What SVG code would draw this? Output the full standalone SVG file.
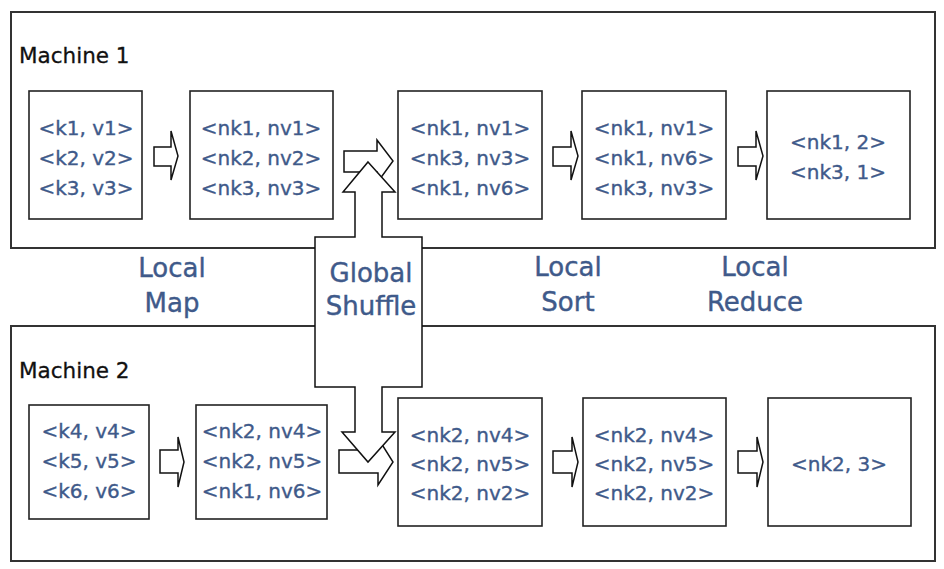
<svg xmlns="http://www.w3.org/2000/svg" width="944" height="569" viewBox="0 0 944 569">
<style>
.machine{fill:#fff;stroke:#333;stroke-width:2}
.box{fill:#fff;stroke:#222;stroke-width:1.6}
.arrow{fill:#fff;stroke:#111;stroke-width:1.5;stroke-linejoin:miter}
.kv{font-family:"DejaVu Sans",Verdana,sans-serif;font-size:20px;fill:#3f5a8a;stroke:#3f5a8a;stroke-width:0.35;text-anchor:middle}
.mlabel{font-family:"DejaVu Sans",Verdana,sans-serif;font-size:21.5px;fill:#111;stroke:#111;stroke-width:0.3}
.stage{font-family:"DejaVu Sans",Verdana,sans-serif;font-size:26px;fill:#3f5a8a;stroke:#3f5a8a;stroke-width:0.4;text-anchor:middle}
</style>
<rect width="944" height="569" fill="#fff"/>
<g id="machine1">
<rect class="machine" x="11" y="12" width="924" height="236"/>
<text class="mlabel" x="19" y="63">Machine 1</text>
</g>
<g id="machine2">
<rect class="machine" x="11" y="326" width="924" height="235"/>
<text class="mlabel" x="19" y="378">Machine 2</text>
</g>
<g id="m1-input">
<rect class="box" x="29" y="91" width="113" height="128"/>
<text class="kv" x="86" y="135">&lt;k1, v1&gt;</text>
<text class="kv" x="86" y="165">&lt;k2, v2&gt;</text>
<text class="kv" x="86" y="195">&lt;k3, v3&gt;</text>
</g>
<g id="m1-map">
<rect class="box" x="190" y="91" width="143" height="128"/>
<text class="kv" x="261" y="135">&lt;nk1, nv1&gt;</text>
<text class="kv" x="261" y="165">&lt;nk2, nv2&gt;</text>
<text class="kv" x="261" y="195">&lt;nk3, nv3&gt;</text>
</g>
<g id="m1-shuffled">
<rect class="box" x="398" y="91" width="144" height="128"/>
<text class="kv" x="470" y="135">&lt;nk1, nv1&gt;</text>
<text class="kv" x="470" y="165">&lt;nk3, nv3&gt;</text>
<text class="kv" x="470" y="195">&lt;nk1, nv6&gt;</text>
</g>
<g id="m1-sorted">
<rect class="box" x="582" y="91" width="144" height="128"/>
<text class="kv" x="654" y="135">&lt;nk1, nv1&gt;</text>
<text class="kv" x="654" y="165">&lt;nk1, nv6&gt;</text>
<text class="kv" x="654" y="195">&lt;nk3, nv3&gt;</text>
</g>
<g id="m1-reduced">
<rect class="box" x="767" y="91" width="143" height="128"/>
<text class="kv" x="838" y="149">&lt;nk1, 2&gt;</text>
<text class="kv" x="838" y="179">&lt;nk3, 1&gt;</text>
</g>
<g id="m2-input">
<rect class="box" x="29" y="405" width="120" height="114"/>
<text class="kv" x="89" y="438">&lt;k4, v4&gt;</text>
<text class="kv" x="89" y="468">&lt;k5, v5&gt;</text>
<text class="kv" x="89" y="498">&lt;k6, v6&gt;</text>
</g>
<g id="m2-map">
<rect class="box" x="196" y="405" width="131" height="114"/>
<text class="kv" x="262" y="438">&lt;nk2, nv4&gt;</text>
<text class="kv" x="262" y="468">&lt;nk2, nv5&gt;</text>
<text class="kv" x="262" y="498">&lt;nk1, nv6&gt;</text>
</g>
<g id="m2-shuffled">
<rect class="box" x="398" y="398" width="144" height="128"/>
<text class="kv" x="470" y="442">&lt;nk2, nv4&gt;</text>
<text class="kv" x="470" y="471">&lt;nk2, nv5&gt;</text>
<text class="kv" x="470" y="500">&lt;nk2, nv2&gt;</text>
</g>
<g id="m2-sorted">
<rect class="box" x="583" y="398" width="143" height="128"/>
<text class="kv" x="654" y="442">&lt;nk2, nv4&gt;</text>
<text class="kv" x="654" y="471">&lt;nk2, nv5&gt;</text>
<text class="kv" x="654" y="500">&lt;nk2, nv2&gt;</text>
</g>
<g id="m2-reduced">
<rect class="box" x="768" y="398" width="143" height="128"/>
<text class="kv" x="839" y="471">&lt;nk2, 3&gt;</text>
</g>
<g id="connectors">
<polygon class="arrow" points="154,147 171,147 171,131 178,156 171,180 171,166 154,166"/>
<polygon class="arrow" points="553,147 571,147 571,131 578,156 571,180 571,166 553,166"/>
<polygon class="arrow" points="738,147 756,147 756,131 763,156 756,180 756,166 738,166"/>
<polygon class="arrow" points="160,450 178,450 178,437 184,462 178,487 178,473 160,473"/>
<polygon class="arrow" points="553,451 572,451 572,437 578,462 572,487 572,473 553,473"/>
<polygon class="arrow" points="738,451 757,451 757,437 763,462 757,487 757,473 738,473"/>
<polygon class="arrow" points="344,151 377,151 377,140 393,161 377,183 377,172 344,172"/>
<polygon class="arrow" points="339,450 378,450 378,438 393,462 378,485 378,473 339,473"/>
<polygon class="arrow" points="368,162 395,192 382,192 382,237 422,237 422,387 382,387 382,432 395,432 368,462 342,432 355,432 355,387 315,387 315,237 355,237 355,192 343,192"/>
</g>
<g id="stage-labels">
<text class="stage" x="172" y="277">Local</text>
<text class="stage" x="172" y="312">Map</text>
<text class="stage" x="371" y="282">Global</text>
<text class="stage" x="371" y="315">Shuffle</text>
<text class="stage" x="568" y="276">Local</text>
<text class="stage" x="568" y="311">Sort</text>
<text class="stage" x="755" y="276">Local</text>
<text class="stage" x="755" y="311">Reduce</text>
</g>
</svg>
